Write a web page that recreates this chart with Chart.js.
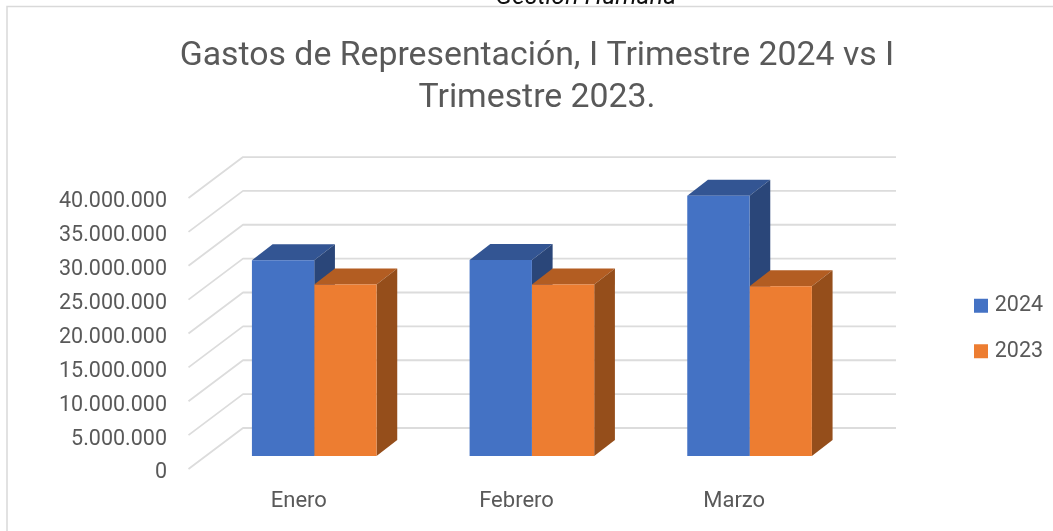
<!DOCTYPE html>
<html><head><meta charset="utf-8">
<style>html,body{margin:0;padding:0;background:#fff;overflow:hidden}canvas{display:block}</style>
<script src="https://cdn.jsdelivr.net/npm/chart.js@4"></script></head>
<body><canvas id="c" width="1053" height="531"></canvas>
<script>
const categories = ['Enero','Febrero','Marzo'];
const values2024 = [28900000, 28950000, 38400000];
const values2023 = [25300000, 25300000, 25050000];
const titleLines = ['Gastos de Representación, I Trimestre 2024 vs I','Trimestre 2023.'];
const headerText = 'Gestión Humana';
const FONT = 'Roboto,"Open Sans",sans-serif';
const TEXT = '#595959';
const WALL = {dx:55, dy:41};       // front plane -> back wall
const BAR_SHIFT = {dx:17.4, dy:13}; // front plane -> bar front face
const BAR_DEPTH = {dx:20.7, dy:16};

const scene = {
  id:'scene',
  beforeLayout(chart){
    const l = chart.legend;
    if(l && !l._wrapped){
      const f = l.fit;
      l.fit = function(){ f.call(this); this.width = 212; };
      l._wrapped = true;
    }
  },
  afterLayout(chart){
    const l = chart.legend;
    l.left = 978-24; l.right = 1053; l.top = 271; l.bottom = 531;
  },
  beforeDraw(chart){
    const c = chart.ctx;
    c.save();
    c.strokeStyle='#d9d9d9'; c.lineWidth=1.5;
    c.beginPath(); c.moveTo(7,531); c.lineTo(7,6.5); c.lineTo(1053,6.5); c.stroke();
    c.font='italic 25px '+FONT; c.fillStyle='#111'; c.textAlign='center'; c.textBaseline='alphabetic';
    c.fillText(headerText,586,4);
    c.restore();
  },
  beforeDatasetsDraw(chart){
    const c = chart.ctx, y = chart.scales.y, a = chart.chartArea;
    c.save();
    c.strokeStyle='#dcdcdc'; c.lineWidth=1.8; c.lineJoin='round';
    y.ticks.forEach(t=>{
      const py = y.getPixelForValue(t.value);
      c.beginPath();
      c.moveTo(a.left+0.5,py);
      c.lineTo(a.left+WALL.dx,py-WALL.dy);
      c.lineTo(a.right+WALL.dx,py-WALL.dy);
      c.stroke();
    });
    c.translate(BAR_SHIFT.dx,-BAR_SHIFT.dy);
    chart.data.datasets.forEach((ds,i)=>{
      chart.getDatasetMeta(i).data.forEach(b=>{
        const l=b.x-b.width/2, r=b.x+b.width/2, tp=b.y, bt=b.base, dx=BAR_DEPTH.dx, dy=BAR_DEPTH.dy;
        c.fillStyle=ds.topColor;
        c.beginPath(); c.moveTo(l,tp); c.lineTo(l+dx,tp-dy); c.lineTo(r+dx,tp-dy); c.lineTo(r,tp); c.closePath(); c.fill();
        c.fillStyle=ds.sideColor;
        c.beginPath(); c.moveTo(r,tp); c.lineTo(r+dx,tp-dy); c.lineTo(r+dx,bt-dy); c.lineTo(r,bt); c.closePath(); c.fill();
      });
    });
    c.restore();
  },
  beforeDatasetDraw(chart){
    chart.ctx.save();
    chart.ctx.translate(BAR_SHIFT.dx,-BAR_SHIFT.dy);
  },
  afterDatasetDraw(chart){
    chart.ctx.restore();
  }
};

new Chart(document.getElementById('c'),{
  type:'bar',
  plugins:[scene],
  data:{labels:categories,datasets:[
    {label:'2024',data:values2024,backgroundColor:'#4472C4',topColor:'#335593',sideColor:'#2A4679',clip:false,
     categoryPercentage:0.5725,barPercentage:1},
    {label:'2023',data:values2023,backgroundColor:'#ED7D31',topColor:'#B35D22',sideColor:'#954E1B',clip:false,
     categoryPercentage:0.5725,barPercentage:1}
  ]},
  options:{
    responsive:false,animation:false,
    layout:{padding:{left:21,right:0,top:0,bottom:0}},
    plugins:{
      tooltip:{enabled:false},
      title:{display:true,text:titleLines,color:TEXT,font:{family:FONT,size:33.8,weight:'normal',lineHeight:1.243},padding:{top:36,bottom:78}},
      legend:{display:true,position:'right',align:'start',
        labels:{boxWidth:6,boxHeight:6,padding:24,color:TEXT,font:{family:FONT,size:21.5},
          generateLabels(chart){
            return Chart.defaults.plugins.legend.labels.generateLabels(chart).map(it=>{
              it.strokeStyle=it.fillStyle; it.lineWidth=8; return it;
            });
          }}}
    },
    scales:{
      x:{grid:{display:false},border:{display:false},
        afterFit(s){s.height=62;},
        ticks:{color:TEXT,font:{family:FONT,size:22},padding:11,labelOffset:2,maxRotation:0}},
      y:{min:0,max:40000000,grid:{display:false},border:{display:false},
        afterFit(s){s.width=167;},
        ticks:{stepSize:5000000,color:TEXT,font:{family:FONT,size:21.5},padding:13,labelOffset:4,
          callback:v=>String(v).replace(/\B(?=(\d{3})+$)/g,'.')}}
    }
  }
});
</script></body></html>
